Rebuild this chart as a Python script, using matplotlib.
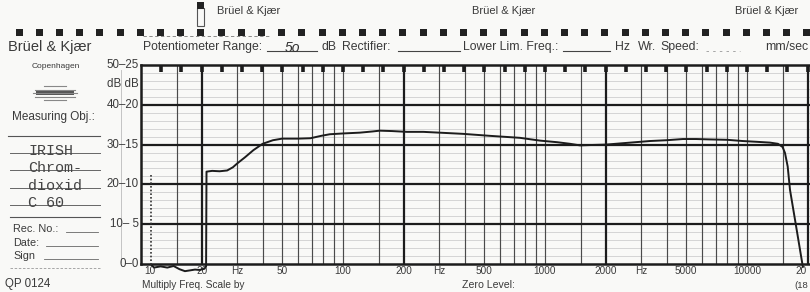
import matplotlib.pyplot as plt
import numpy as np
from matplotlib.patches import Rectangle
import matplotlib.transforms as mtransforms

# pen trace (frequency in Hz, level in dB on the 50 dB range)
freq_hz = [11.3, 11.6, 12.5, 13.5, 14.5, 15.5, 16.5, 17.5, 18.5, 19.5, 20.6, 21.0,
           21.1, 22.5, 24.5, 26.7, 28.5, 30, 32.7, 36, 40, 45, 50, 60, 69, 78, 86,
           100, 121, 140, 152, 175, 207, 250, 300, 393, 534, 752, 945, 1150, 1330,
           1490, 1700, 2005, 2500, 3310, 4000, 4820, 5600, 6560, 8000, 9500, 11200,
           13000, 14230, 15000, 15420, 15900, 16330, 17500, 18900]
level_db = [-0.3, -0.9, -0.6, -0.9, -0.5, -1.3, -1.8, -1.6, -1.4, -1.5, -1.2, -0.6,
            23.2, 23.4, 23.3, 23.5, 24.3, 25.3, 26.8, 28.6, 30.2, 31.1, 31.5, 31.5, 31.6, 32.2, 32.6,
            32.8, 33.0, 33.3, 33.5, 33.4, 33.2, 33.2, 33.0, 32.7, 32.2, 31.7, 31.0, 30.6, 30.2,
            29.8, 29.9, 30.0, 30.4, 30.9, 31.1, 31.4, 31.4, 31.3, 31.2, 30.9, 30.7,
            30.5, 30.2, 29.4, 27.9, 24.5, 18.6, 9.5, -0.7]
# pen bounce at the start of the sweep
spike_hz = [11.2, 11.2]
spike_db = [22.3, -0.5]

db_ticks = [0, 10, 20, 30, 40, 50]
db_labels = ["0\u20130", "10\u2013 5", "20\u201310", "30\u201315", "40\u201320", "50\u201325"]
f_label_pos = [11.1, 20, 30, 50, 100, 200, 300, 500, 1000, 2000, 3000, 5000, 10000]
f_labels = ["10", "20", "Hz", "50", "100", "200", "Hz", "500", "1000", "2000", "Hz", "5000", "10000"]
typed_lines = ["IRISH", "Chrom-", "dioxid", "C 60"]

W, H = 810, 292
PAPER = "#f9f9f7"
INK = "#1c1c1c"
PRINT = "#3a3a3a"
plt.rcParams['font.family'] = ['Liberation Sans', 'DejaVu Sans']

fig = plt.figure(figsize=(W / 100, H / 100), dpi=100)
fig.patch.set_facecolor(PAPER)

# pixel-space layer for the printed paper furniture
pp = fig.add_axes([0, 0, 1, 1])
pp.set_xlim(0, W)
pp.set_ylim(H, 0)
pp.axis("off")

# chart area: 10 Hz at x=141, one decade = 202 px; 0..50 dB between y=264 and y=65
left, right, top, bot = 141, W, 65, 264
ax = fig.add_axes([left / W, 1 - bot / H, (right - left) / W, (bot - top) / H])
ax.set_facecolor("none")
ax.set_xscale("log")
xmax = 10 ** (1 + (right - left) / 202)
ax.set_xlim(10, xmax)
ax.set_ylim(0, 50)
ax.set_xticks([])
ax.set_yticks([])
ax.minorticks_off()
for s in ["left", "top", "bottom"]:
    ax.spines[s].set_linewidth(1.8)
    ax.spines[s].set_color(INK)
ax.spines["right"].set_visible(False)

# frequency grid
for n in range(1, 5):
    for m in [1, 1.5, 2, 3, 4, 5, 6, 7, 8, 9]:
        f = m * 10 ** n
        if f <= 10 or f >= xmax:
            continue
        if m == 2:
            ax.axvline(f, color=INK, lw=1.6, zorder=1)
        else:
            ax.axvline(f, color="#4a4a4a", lw=0.85, zorder=1)

# level grid
for d in range(2, 50, 2):
    if d % 10:
        ax.axhline(d, color="#cfcfcf", lw=0.6, zorder=0)
for d in [10, 20, 30, 40]:
    ax.axhline(d, color=INK, lw=1.6, zorder=1)

# time marks along the top edge (every 0.1 decade)
marks = 10 ** (1 + np.arange(1, 34) * 0.1)
marks = marks[marks < xmax]
ax.vlines(marks, 48.3, 50, color=INK, lw=2.6, zorder=3)

# the pen trace
ax.plot(freq_hz, level_db, color=INK, lw=1.4, clip_on=False, zorder=5)
ax.plot(spike_hz, spike_db, color="#333333", lw=1.2, ls=(0, (1, 1.2)), clip_on=False, zorder=5)

# dB scale labels
ty = mtransforms.blended_transform_factory(pp.transData, ax.transData)
for d, lab in zip(db_ticks, db_labels):
    pp.text(139, d, lab, transform=ty, ha="right", va="center", fontsize=8.3, color=PRINT)
pp.text(139, 45.3, "dB dB", transform=ty, ha="right", va="center", fontsize=8.3, color=PRINT)
pp.plot([121, 121], [70, 262], color="#c4c4c4", lw=0.7)

# frequency labels
tx = mtransforms.blended_transform_factory(ax.transData, pp.transData)
for f, lab in zip(f_label_pos, f_labels):
    pp.text(f, 271.5, lab, transform=tx, ha="center", va="center", fontsize=7.2, color=PRINT)
pp.text(795, 271.5, "20", ha="left", va="center", fontsize=7.2, color=PRINT)
pp.text(142, 285, "Multiply Freq. Scale by", ha="left", va="center", fontsize=7.3, color=PRINT)
pp.text(462, 285, "Zero Level:", ha="left", va="center", fontsize=7.6, color=PRINT)
pp.text(794, 285, "(18", ha="left", va="center", fontsize=6.8, color=PRINT)
pp.text(5, 284, "QP 0124", ha="left", va="center", fontsize=8.3, color=PRINT)

# sprocket holes and top strip
for x in np.arange(19, W, 20.2):
    pp.add_patch(Rectangle((x - 3.5, 28.5), 7, 7, color="#222222", lw=0))
pp.plot([143, 270], [35.5, 35.5], color="#777777", lw=0.6, ls=(0, (4, 3)))
pp.add_patch(Rectangle((197, 8), 7, 18, fill=False, ec="#555555", lw=0.8))
pp.add_patch(Rectangle((197, 2), 7, 7, color="#222222", lw=0))
for x in [217, 472, 735]:
    pp.text(x, 11, "Br\u00fcel & Kj\u00e6r", ha="left", va="center", fontsize=8, color=PRINT)

# header row
hs = 8.8
pp.text(8, 47, "Br\u00fcel & Kj\u00e6r", ha="left", va="center", fontsize=10.5, color=PRINT)
pp.text(143, 47, "Potentiometer Range:", ha="left", va="center", fontsize=hs, color=PRINT)
pp.plot([267, 317], [51, 51], color="#444444", lw=0.8)
pp.text(292, 48, "5o", ha="center", va="center", fontsize=10, style="italic", color="#333333")
pp.text(322, 47, "dB", ha="left", va="center", fontsize=hs, color=PRINT)
pp.text(342, 47, "Rectifier:", ha="left", va="center", fontsize=hs, color=PRINT)
pp.plot([398, 460], [51, 51], color="#444444", lw=0.8)
pp.text(463, 47, "Lower Lim. Freq.:", ha="left", va="center", fontsize=hs, color=PRINT)
pp.plot([563, 610], [51, 51], color="#444444", lw=0.8)
pp.text(615, 47, "Hz", ha="left", va="center", fontsize=hs, color=PRINT)
pp.text(638, 47, "Wr.", ha="left", va="center", fontsize=hs, color=PRINT)
pp.text(660, 47, "Speed:", ha="left", va="center", fontsize=hs, color=PRINT)
pp.plot([706, 740], [51, 51], color="#999999", lw=0.6, ls=(0, (3, 5)))
pp.text(765, 47, "mm/sec", ha="left", va="center", fontsize=hs, color=PRINT)

# left panel
pp.text(56, 66, "Copenhagen", ha="center", va="center", fontsize=6, color=PRINT)
for i, wdt in enumerate([22, 40, 44, 40, 22]):
    pp.plot([55 - wdt / 2, 55 + wdt / 2], [86 + i * 3.5, 86 + i * 3.5], color="#888888", lw=0.8)
pp.add_patch(Rectangle((36, 91), 38, 3.5, color="#555555", lw=0))
pp.text(12, 117, "Measuring Obj.:", ha="left", va="center", fontsize=8.5, color=PRINT)
pp.plot([8, 100], [136, 136], color="#555555", lw=0.8)
for i, word in enumerate(typed_lines):
    y = 151 + i * 17.3
    pp.plot([10, 100], [y + 2, y + 2], color="#666666", lw=0.7)
    pp.text(28, y, word, ha="left", va="center", fontsize=10.8, family="Liberation Mono", color="#444444")
pp.plot([10, 100], [217, 217], color="#555555", lw=0.8)
pp.text(13, 229, "Rec. No.:", ha="left", va="center", fontsize=7.8, color=PRINT)
pp.plot([66, 98], [232, 232], color="#666666", lw=0.6)
pp.text(13, 243, "Date:", ha="left", va="center", fontsize=7.8, color=PRINT)
pp.plot([46, 98], [246, 246], color="#666666", lw=0.6)
pp.text(13, 256, "Sign", ha="left", va="center", fontsize=7.8, color=PRINT)
pp.plot([44, 98], [259, 259], color="#666666", lw=0.6)
pp.plot([10, 100], [268, 268], color="#999999", lw=0.6, ls=(0, (3, 2)))

fig.savefig("out.png", dpi=100, facecolor=PAPER)
